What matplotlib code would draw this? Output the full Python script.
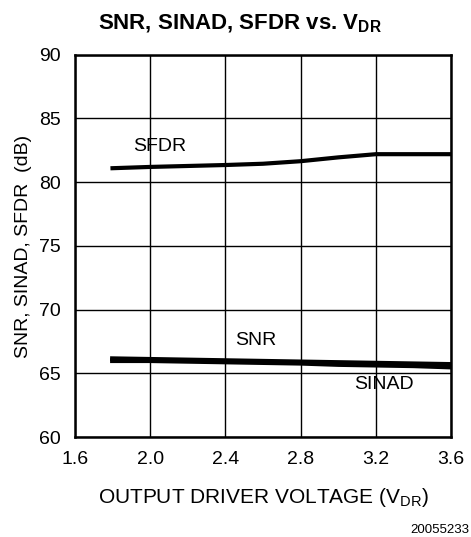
import matplotlib.pyplot as plt
import numpy as np

plt.rcParams['font.family'] = ['Liberation Sans', 'DejaVu Sans']

# values
vdr = [1.8, 2.0, 2.4, 2.6, 2.8, 3.0, 3.2, 3.4, 3.6]
sfdr = [81.1, 81.2, 81.35, 81.45, 81.65, 81.95, 82.2, 82.2, 82.2]
snr = [66.15, 66.1, 66.0, 65.95, 65.9, 65.85, 65.8, 65.75, 65.7]
sinad = [66.0, 66.0, 65.9, 65.85, 65.8, 65.7, 65.65, 65.6, 65.5]

x_ticks = [1.6, 2.0, 2.4, 2.8, 3.2, 3.6]
y_ticks = [60, 65, 70, 75, 80, 85, 90]

fig = plt.figure(figsize=(4.71, 5.37), dpi=100)
ax = fig.add_axes([0.159, 0.186, 0.799, 0.712])

ax.plot(vdr, sfdr, color='black', lw=3)
ax.plot(vdr, snr, color='black', lw=3.5)
ax.plot(vdr, sinad, color='black', lw=3.5)

ax.text(2.05, 82.8, 'SFDR', ha='center', va='center', fontsize=14)
ax.text(2.56, 67.6, 'SNR', ha='center', va='center', fontsize=14)
ax.text(3.24, 64.1, 'SINAD', ha='center', va='center', fontsize=14)

ax.set_xlim(1.6, 3.6)
ax.set_ylim(60, 90)
ax.set_xticks(x_ticks)
ax.set_xticklabels([f'{v:.1f}' for v in x_ticks])
ax.set_yticks(y_ticks)
ax.tick_params(axis='x', length=0, labelsize=14, pad=10)
ax.tick_params(axis='y', length=0, labelsize=14, pad=10)
ax.grid(True, color='black', lw=1)
for s in ax.spines.values():
    s.set_linewidth(1.8)

ax.set_ylabel('SNR, SINAD, SFDR  (dB)', fontsize=14, labelpad=5)
ax.set_xlabel('OUTPUT DRIVER VOLTAGE (V$_{\\mathregular{DR}}$)', fontsize=15, labelpad=13)
fig.text(0.51, 0.955, 'SNR, SINAD, SFDR vs. V$_{\\mathregular{DR}}$', ha='center', va='center',
         fontsize=16, fontweight='bold')
fig.text(0.997, 0.013, '20055233', ha='right', va='center', fontsize=9.5)

fig.savefig('out.png', dpi=100)
